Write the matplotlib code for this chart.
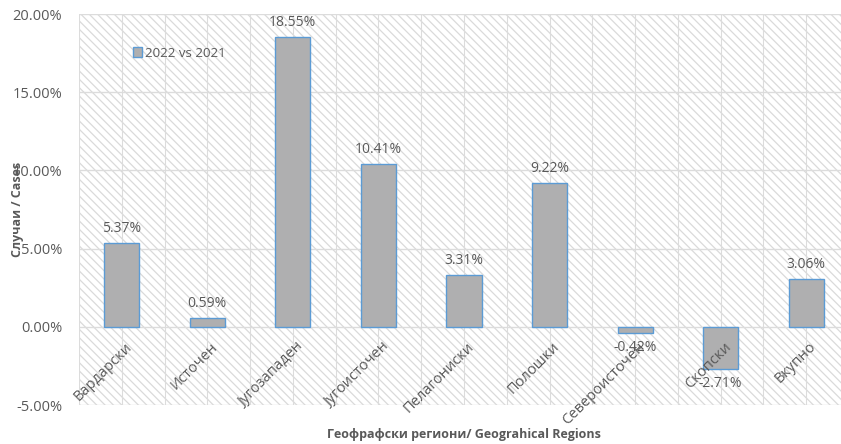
import matplotlib
matplotlib.use("Agg")
import matplotlib.pyplot as plt
from matplotlib.patches import Rectangle
from matplotlib.ticker import FuncFormatter
import numpy as np

plt.rcParams['font.family'] = ['Open Sans', 'DejaVu Sans']
plt.rcParams['hatch.linewidth'] = 0.9

regions = ["Вардарски", "Источен", "Југозападен", "Југоисточен", "Пелагониски",
           "Полошки", "Североисточен", "Скопски", "Вкупно"]
change = [5.37, 0.59, 18.55, 10.41, 3.31, 9.22, -0.42, -2.71, 3.06]
series_name = "2022 vs 2021"

text_gray = "#595959"
grid_gray = "#dcdcdc"

fig = plt.figure(figsize=(8.41, 4.44), dpi=100)
ax = fig.add_axes([0.0939, 0.0878, 0.9156, 0.8806])

# hatched plot-area background
ax.patch.set_visible(False)
bg = Rectangle((0, 0), 1, 1, transform=ax.transAxes, facecolor="white",
               edgecolor="#dadada", hatch="\\" * 4, lw=0, zorder=0)
ax.add_patch(bg)

x = np.arange(len(regions))
ax.bar(x, change, width=0.41, color="#afafb0", edgecolor="#5b9bd5",
       linewidth=1.0, zorder=3, label=series_name)

for xi, v in zip(x, change):
    if v >= 0:
        ax.annotate(f"{v:.2f}%", (xi, v), xytext=(0, 5), textcoords="offset points",
                    ha="center", va="bottom", fontsize=10, color=text_gray, zorder=5)
    else:
        ax.annotate(f"{v:.2f}%", (xi, v), xytext=(0, -5), textcoords="offset points",
                    ha="center", va="top", fontsize=10, color=text_gray, zorder=5)

# category labels sit at the zero line, inside the plot area
for xi, name in zip(x, regions):
    ax.annotate(name, (xi, 0), xytext=(2, -9), textcoords="offset points",
                rotation=45, ha="right", va="top", rotation_mode="anchor",
                fontsize=10.5, color=text_gray, zorder=6)

ax.set_xlim(-0.5, len(regions) - 0.5)
ax.set_ylim(-5, 20)
ax.set_yticks(np.arange(-5, 20.1, 5))
ax.yaxis.set_major_formatter(FuncFormatter(lambda v, p: f"{v:.2f}%"))
ax.set_xticks([])

# gridlines
for yv in np.arange(-5, 20.1, 5):
    ax.axhline(yv, color=grid_gray, lw=1.0, zorder=1)
for xv in np.arange(-0.5, len(regions), 0.5):
    ax.axvline(xv, color=grid_gray, lw=0.8, zorder=1)

ax.tick_params(axis="y", length=0, pad=12, labelsize=10.5, labelcolor=text_gray)

for s in ax.spines.values():
    s.set_visible(False)

ax.set_xlabel("Геофрафски региони/ Geograhical Regions", fontsize=9,
              fontweight="bold", color=text_gray)
ax.xaxis.set_label_coords(0.5, -0.058)
ax.set_ylabel("Случаи / Cases", fontsize=9, fontweight="bold", color=text_gray)
ax.yaxis.set_label_coords(-0.072, 0.5)

leg = ax.legend(loc="center left", bbox_to_anchor=(0.055, 0.9), frameon=False,
                fontsize=9.5, handlelength=0.7, handleheight=0.7, handletextpad=0.2)
for t in leg.get_texts():
    t.set_color(text_gray)

fig.savefig("out.png", dpi=100)
